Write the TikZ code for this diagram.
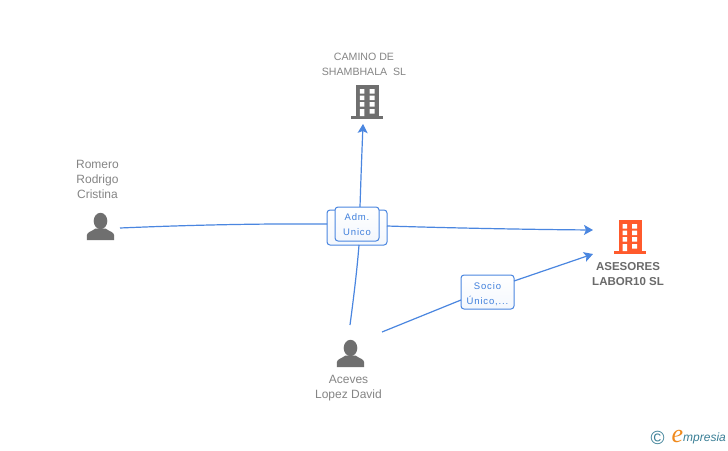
\documentclass[tikz,border=0pt]{standalone}
\usepackage{fontspec}
\setmainfont{Liberation Sans}
\newfontfamily\boxfont[LetterSpace=9]{Liberation Sans}
\newfontfamily\logoserif{Liberation Serif}
\usetikzlibrary{arrows.meta}
\definecolor{linkblue}{HTML}{4A86E0}
\definecolor{boxblue}{HTML}{3F7FDC}
\definecolor{labelgray}{HTML}{858585}
\definecolor{icongray}{HTML}{6F6F6F}
\definecolor{iconred}{HTML}{FF5A2C}
\definecolor{logoteal}{HTML}{3A7F96}
\definecolor{logoorange}{HTML}{F08A1D}
\tikzset{
  link/.style={draw=linkblue,line width=1.2pt},
  linkarrow/.style={link,-{Stealth[length=9pt,width=10pt,inset=2pt]}},
  anchorbox/.style={inner sep=0pt,outer sep=0pt,draw=none,rectangle},
  rolebox/.style={draw=linkblue,line width=1pt,rounded corners=3pt,inner sep=0pt,outer sep=0pt,
    top color=white,bottom color=white!94!boxblue,text=boxblue,align=center,
    font=\boxfont\fontsize{9.5}{15}\selectfont},
  rolebehind/.style={rolebox},
  entity/.style={inner sep=0pt,outer sep=0pt,text=labelgray,align=center,
    font=\fontsize{10.6}{15}\selectfont},
  entitybold/.style={entity,font=\bfseries\fontsize{11.5}{15}\selectfont,text=icongray!95!black},
  pics/buildingicon/.style={code={
    \fill[#1] (-11,0) rectangle (11.5,31);
    \fill[#1] (-16,30.5) rectangle (16,33.5);
    \fill[white] (-7.5,4) rectangle (-3,8.5) (2.2,4) rectangle (7.2,8.5)
      (-7.5,10.5) rectangle (-3,15) (2.2,10.5) rectangle (7.2,15)
      (-7.5,17) rectangle (-3,21.5) (2.2,17) rectangle (7.2,21.5)
      (-7.5,24) rectangle (-3,31) (2.2,24) rectangle (7.2,28.5);
  }},
  pics/personicon/.style={code={
    \fill[icongray] (0,8) ellipse (6.8pt and 8.2pt);
    \fill[icongray] (-13.6,27) -- (-13.6,22) .. controls (-13.2,19) and (-9,18.5) .. (-5,15.5)
      -- (5,15.5) .. controls (9,18.5) and (13.2,19) .. (13.6,22) -- (13.6,27) -- cycle;
  }}
}
\begin{document}
\begin{tikzpicture}[x=1pt,y=-1pt]
\useasboundingbox (0,0) rectangle (728,450);
\fill[white] (0,0) rectangle (728,450);

% invisible regions that the connectors attach to
\node[anchorbox,minimum width=39pt,minimum height=30pt] (romero) at (100.5,228) {};
\node[anchorbox,minimum width=40pt,minimum height=40pt] (camino) at (363,104) {};
\node[anchorbox,minimum width=74pt,minimum height=24pt] (asesores) at (630,242) {};
\node[anchorbox,minimum width=64pt,minimum height=14pt] (aceves) at (350,332) {};

% role boxes
\node[rolebehind,minimum width=60pt,minimum height=35pt] (admback) at (357,227.5) {};
\node[rolebox,minimum width=53pt,minimum height=34pt] (socio) at (487.5,292) {\rule{0pt}{11pt}Socio\\Único,...};

% connectors
\draw[link] (romero.east) .. controls (190,225) and (260,223.5) .. (admback.west |- 0,224);
\draw[linkarrow] (admback.east |- 0,226) .. controls (450,228) and (530,229.5) .. (asesores.north west);
\draw[link] (aceves.north) .. controls (354,295) and (357,270) .. (359,245);
\draw[linkarrow] (360,207) .. controls (361,175) and (362,150) .. (camino.south);
\draw[link] (aceves.east) -- (socio.west |- 0,300);
\draw[linkarrow] (socio.east |- 0,281) -- (asesores.south west);

\node[rolebox,minimum width=44pt,minimum height=34pt] (adm) at (357,224) {\rule{0pt}{9pt}Adm.\\Unico};

% icons
\pic at (367.3,85) {buildingicon=icongray};
\pic at (630,220) {buildingicon=iconred};
\pic at (100.5,213) {personicon};
\pic at (350.5,340) {personicon};

% labels
\node[entity] (caminolabel) at (364,64) {CAMINO DE\\SHAMBHALA\ \ SL};
\node[entity,font=\fontsize{12}{15}\selectfont] (romerolabel) at (97.5,179) {Romero\\Rodrigo\\Cristina};
\node[entity,font=\fontsize{12}{15}\selectfont] (aceveslabel) at (348.5,388.5) {Aceves\\Lopez David};
\node[entitybold] (asesoreslabel) at (628,274) {ASESORES\\LABOR10 SL};

% logo
\node[inner sep=0pt,text=logoteal,font=\fontsize{19}{19}\selectfont] (logoc) at (657.5,438) {©};
\node[inner sep=0pt,text=logoorange,font=\logoserif\itshape\fontsize{26}{26}\selectfont] (logoe) at (677.5,436) {e};
\node[inner sep=0pt,text=logoteal,font=\itshape\fontsize{12}{12}\selectfont,anchor=west] (logom) at (683,438.5) {mpresia};
\end{tikzpicture}
\end{document}
